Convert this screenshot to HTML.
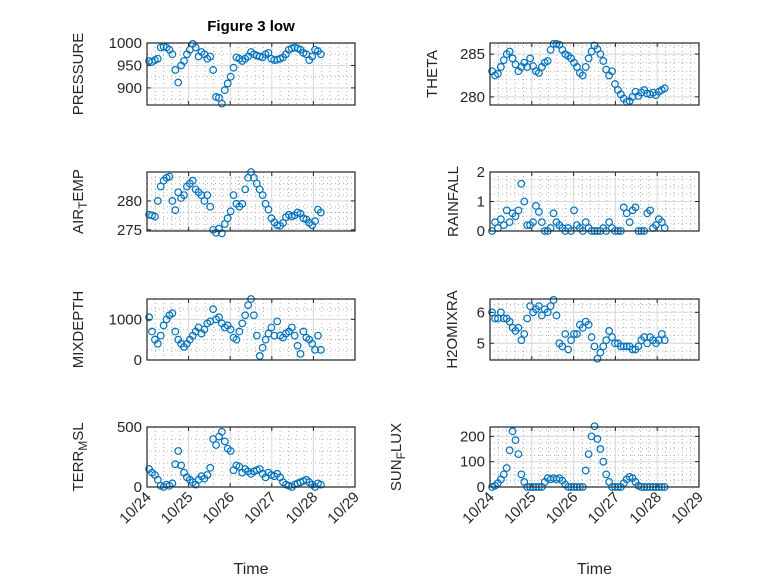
<!DOCTYPE html>
<html><head><meta charset="utf-8"><style>
body{margin:0;background:#fff;}
svg{display:block;font-family:"Liberation Sans","DejaVu Sans",sans-serif;}
</style></head><body>
<svg id="fig" width="778" height="583" viewBox="0 0 778 583" xmlns="http://www.w3.org/2000/svg">
<rect width="778" height="583" fill="#fff"/>
<text x="251" y="31" text-anchor="middle" font-size="15" font-weight="bold" fill="#000">Figure 3 low</text>
</svg>
<script>
const times=[0.05,0.12,0.19,0.26,0.33,0.40,0.47,0.54,0.61,0.68,0.75,0.82,0.89,0.96,1.03,1.10,1.17,1.24,1.31,1.38,1.45,1.52,1.59,1.66,1.73,1.80,1.87,1.94,2.01,2.08,2.15,2.22,2.29,2.36,2.43,2.50,2.57,2.64,2.71,2.78,2.85,2.92,2.99,3.06,3.13,3.20,3.27,3.34,3.41,3.48,3.55,3.62,3.69,3.76,3.83,3.90,3.97,4.04,4.11,4.18];
const xTickLabels=["10/24","10/25","10/26","10/27","10/28","10/29"];
const pressure=[960,958,962,965,990,992,990,985,975,940,912,950,960,975,985,998,990,970,980,975,965,970,940,880,878,865,895,910,925,945,968,965,960,965,970,980,975,972,970,968,975,978,965,962,963,965,968,975,985,988,990,988,985,978,975,962,970,985,982,975];
const theta=[283,282.5,282.7,283.5,284.3,285,285.3,284.5,283.8,283,283.5,284,283.5,284.5,283.6,283,282.8,283.5,284,284.2,285.5,286.2,286.2,286.1,285.5,285,284.8,284.5,284,283.5,282.8,282.5,283.5,284.5,285.3,286,285.6,285,284.2,283.2,282.5,283,281.5,280.8,280.3,279.8,279.4,279.5,280,280.6,280.1,280.5,280.8,280.4,280.3,280.5,280.2,280.6,280.8,281];
const airTemp=[277.6,277.5,277.3,280,282.5,283.5,284,284.2,280,278.4,281.5,280.5,281,282.5,283,283.5,282,281.5,281,280,281,279,275,274.5,275.2,274.4,276,277,278.2,281,279.5,279,279.5,282,284,285,284,283,282,281,279.5,278.5,277,276.3,275.8,275.7,276.2,277.2,277.6,277.3,277.5,278,277.8,277,276.8,276.2,275.8,276.5,278.5,278];
const rainfall=[0,0.3,0.1,0.4,0.2,0.7,0.3,0.6,0.5,0.7,1.6,1.0,0.2,0.2,0.3,0.85,0.65,0.3,0,0,0.1,0.6,0.3,0.2,0.1,0,0.1,0,0.7,0.2,0.1,0,0.3,0.1,0,0,0,0,0.1,0,0.3,0.1,0,0,0,0.8,0.6,0.3,0.7,0.8,0,0,0,0.6,0.7,0.1,0.2,0.4,0.3,0.1];
const mixDepth=[1050,700,500,400,600,850,1000,1100,1150,700,500,400,320,400,500,600,700,800,650,750,900,950,1250,1000,1050,900,800,850,750,550,500,700,900,1100,1350,1500,1100,600,100,300,500,650,800,600,950,600,550,650,700,800,600,350,150,700,550,500,400,250,600,250];
const h2oMix=[6.0,5.8,5.8,6.0,5.8,5.8,5.7,5.5,5.4,5.5,5.1,5.3,5.8,6.2,6.0,6.1,6.2,5.9,6.1,6.0,6.2,6.4,5.9,5.0,4.9,5.3,4.8,5.1,5.3,5.3,5.6,5.5,5.7,5.6,5.2,4.9,4.5,4.7,4.9,5.1,5.4,5.2,5.0,5.0,4.9,4.9,4.9,4.9,4.8,4.8,4.9,5.1,5.2,5.0,5.2,5.1,5.0,5.1,5.3,5.1];
const terrMsl=[150,120,100,60,10,0,20,10,30,190,300,180,120,80,60,40,20,60,90,70,100,160,400,350,420,460,380,320,300,140,180,170,120,150,130,110,130,140,150,110,80,120,100,90,110,80,40,20,10,0,20,30,40,50,60,40,20,0,30,20];
const sunFlux=[0,5,15,30,50,75,145,220,185,130,50,20,0,0,0,0,0,0,20,35,30,35,30,35,25,10,0,0,0,0,0,0,65,130,200,240,190,150,100,50,20,0,0,0,0,15,30,40,35,20,5,0,0,0,0,0,0,0,0,0];
const pressureTicks=[900,950,1000];
const thetaTicks=[280,285];
const airTicks=[275,280];
const rainTicks=[0,1,2];
const mixTicks=[0,1000];
const h2oTicks=[5,6];
const terrTicks=[0,500];
const sunTicks=[0,100,200];

const NS="http://www.w3.org/2000/svg";
const svg=document.getElementById('fig');
function mk(tag,attrs,parent){const e=document.createElementNS(NS,tag);for(const k in attrs)e.setAttribute(k,attrs[k]);(parent||svg).appendChild(e);return e;}

const L=[147,355],R=[490,699];
const rows=[[43,105],[172,231],[299,360],[427,487]];
const panels=[
 {name:'pressure',x:L,y:rows[0],ymin:862,ymax:1000,ticks:pressureTicks,minor:25,data:pressure,lab:['PRESSURE'],lx:78},
 {name:'theta',x:R,y:rows[0],ymin:279.05,ymax:286.3,ticks:thetaTicks,minor:1,data:theta,lab:['THETA'],lx:432},
 {name:'air-temp',x:L,y:rows[1],ymin:274.8,ymax:285,ticks:airTicks,minor:1,data:airTemp,lab:['AIR','T','EMP'],lx:78},
 {name:'rainfall',x:R,y:rows[1],ymin:0,ymax:2,ticks:rainTicks,minor:0.25,data:rainfall,lab:['RAINFALL'],lx:453},
 {name:'mixdepth',x:L,y:rows[2],ymin:0,ymax:1500,ticks:mixTicks,minor:250,data:mixDepth,lab:['MIXDEPTH'],lx:78},
 {name:'h2omixra',x:R,y:rows[2],ymin:4.46,ymax:6.43,ticks:h2oTicks,minor:0.25,data:h2oMix,lab:['H2OMIXRA'],lx:452},
 {name:'terr-msl',x:L,y:rows[3],ymin:0,ymax:500,ticks:terrTicks,minor:100,data:terrMsl,lab:['TERR','M','SL'],lx:78,xl:true},
 {name:'sun-flux',x:R,y:rows[3],ymin:0,ymax:237,ticks:sunTicks,minor:25,data:sunFlux,lab:['SUN','F','LUX'],lx:396,xl:true}
];

panels.forEach(p=>{
 const g=mk('g',{});
 
 
 const [x0,x1]=p.x,[y0,y1]=p.y;
 const sx=t=>x0+(t/5)*(x1-x0);
 const sy=v=>y1-(v-p.ymin)/(p.ymax-p.ymin)*(y1-y0);
 // minor grid
 for(let d=0;d<5;d+=0.2){const x=sx(d);if(Math.abs(d-Math.round(d))<1e-6)continue;mk('line',{x1:x,x2:x,y1:y0,y2:y1,stroke:'#b0b0b0','stroke-width':1,'stroke-dasharray':'1 3'},g);}
 const m0=Math.ceil(p.ymin/p.minor)*p.minor;
 for(let v=m0;v<=p.ymax+1e-9;v+=p.minor){const y=sy(v);mk('line',{x1:x0,x2:x1,y1:y,y2:y,stroke:'#b0b0b0','stroke-width':1,'stroke-dasharray':'1 3'},g);}
 // major grid
 for(let d=1;d<5;d++){const x=sx(d);mk('line',{x1:x,x2:x,y1:y0,y2:y1,stroke:'#dedede','stroke-width':1.2},g);}
 p.ticks.forEach(v=>{const y=sy(v);mk('line',{x1:x0,x2:x1,y1:y,y2:y,stroke:'#dedede','stroke-width':1.2},g);
  const t=mk('text',{x:x0-5,y:y+5,'text-anchor':'end','font-size':15,fill:'#262626'},g);t.textContent=v;
  
  
  mk('line',{x1:x0,x2:x0+4,y1:y,y2:y,stroke:'#262626'},g);mk('line',{x1:x1,x2:x1-4,y1:y,y2:y,stroke:'#262626'},g);});
 for(let d=0;d<=5;d++){const x=sx(d);mk('line',{x1:x,x2:x,y1:y1,y2:y1-4,stroke:'#262626'},g);mk('line',{x1:x,x2:x,y1:y0,y2:y0+4,stroke:'#262626'},g);
  if(p.xl){const t=mk('text',{'text-anchor':'end','font-size':15,fill:'#262626',transform:`translate(${x+5},${y1+11}) rotate(-45)`},g);t.textContent=xTickLabels[d];
   
   }}
 // points
 p.data.forEach((v,i)=>{const c=mk('circle',{cx:sx(times[i]),cy:sy(v),r:3.3,fill:'none',stroke:'#0072BD','stroke-width':1.2},g);
  
  });
 mk('rect',{x:x0,y:y0,width:x1-x0,height:y1-y0,fill:'none',stroke:'#262626','stroke-width':1.2},g);
 // y label
 const cy=(y0+y1)/2;
 const t=mk('text',{'text-anchor':'middle','font-size':15,fill:'#262626',transform:`translate(${p.lx+5},${cy}) rotate(-90)`},g);
 
 
 if(p.lab.length===1)t.textContent=p.lab[0];
 else{const a=mk('tspan',{},t);a.textContent=p.lab[0];const b=mk('tspan',{dy:4,'font-size':12},t);b.textContent=p.lab[1];const c=mk('tspan',{dy:-4},t);c.textContent=p.lab[2];}
 if(p.xl){const tt=mk('text',{x:(x0+x1)/2,y:574,'text-anchor':'middle','font-size':16,fill:'#262626'},g);tt.textContent='Time';
  
  }
});
</script>
</body></html>
